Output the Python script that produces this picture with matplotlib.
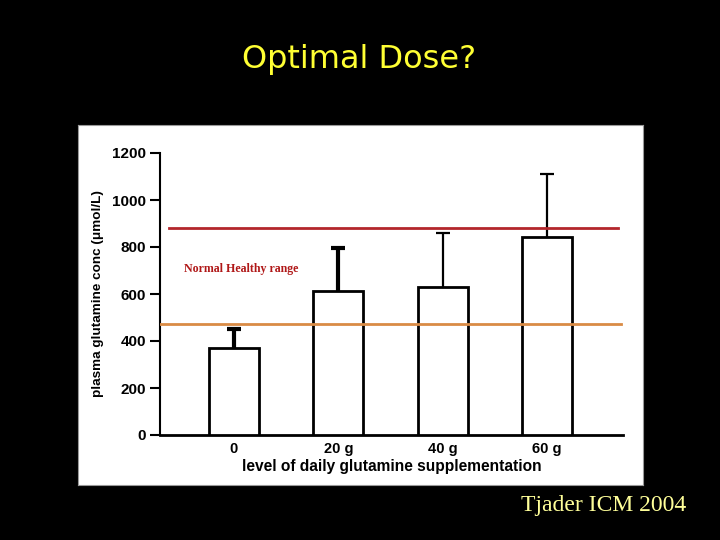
import matplotlib
matplotlib.use("Agg")
import matplotlib.pyplot as plt
import numpy as np

categories = ["0", "20 g", "40 g", "60 g"]
means = [370, 614, 630, 843]
err_upper = [82, 181, 230, 267]
upper_normal = 882
lower_normal = 472

fig = plt.figure(figsize=(7.2, 5.4), dpi=100, facecolor="black")

# white panel
bg = fig.add_axes([78/720, 1-485/540, (643-78)/720, (485-125)/540], zorder=-1)
bg.set_facecolor("white")
bg.set_xticks([])
bg.set_yticks([])
for s in bg.spines.values():
    s.set_color("#999999")
    s.set_linewidth(0.8)

fig.text(0.499, 0.889, "Optimal Dose?", color="#FFFF33", fontsize=23,
         family="DejaVu Sans", ha="center", va="center")
fig.text(0.838, 0.063, "Tjader ICM 2004", color="#FFFF99", fontsize=17,
         family="Liberation Serif", ha="center", va="center")

ax = fig.add_axes([160/720, 1-435/540, (623-160)/720, (435-153)/540], zorder=1)
ax.set_facecolor("none")
x = np.arange(len(categories))
means_a = np.array(means)
tops = means_a + np.array(err_upper)
lws = [3, 3, 1.6, 1.6]
ax.vlines(x, means_a, tops, colors="black", linewidths=lws, zorder=2)
ax.hlines(tops, x - 0.067, x + 0.067, colors="black", linewidths=lws, zorder=2)
ax.bar(x, means, width=0.48, color="white", edgecolor="black", linewidth=2, zorder=3)

ax.plot([-0.625, 3.68], [upper_normal, upper_normal], color="#B3262B", lw=2, zorder=4)
ax.plot([-0.708, 3.705], [lower_normal, lower_normal], color="#D98B45", lw=2, zorder=4)
ax.text(-0.478, 705, "Normal Healthy range", color="#B01818", fontsize=8.6,
        fontweight="bold", family="Liberation Serif", ha="left", va="center")

ax.set_xlim(-0.708, 3.727)
ax.set_ylim(0, 1200)
ax.set_yticks([0, 200, 400, 600, 800, 1000, 1200])
ax.set_xticks(x)
ax.set_xticklabels(categories)
for s in ["top", "right"]:
    ax.spines[s].set_visible(False)
ax.spines["left"].set_linewidth(1.5)
ax.spines["bottom"].set_linewidth(2)
ax.tick_params(axis="y", length=7, width=1.5, pad=3, labelsize=11)
ax.tick_params(axis="x", length=0, pad=5, labelsize=10.5)
for lab in ax.get_xticklabels() + ax.get_yticklabels():
    lab.set_fontweight("bold")
    lab.set_family("Liberation Sans")
ax.set_xlabel("level of daily glutamine supplementation", fontsize=11.2,
              fontweight="bold", family="Liberation Sans", labelpad=2.5)
ax.set_ylabel("plasma glutamine conc (μmol/L)", fontsize=9.7,
              fontweight="bold", family="Liberation Sans", labelpad=6)

fig.savefig("out.png", dpi=100, facecolor="black")
